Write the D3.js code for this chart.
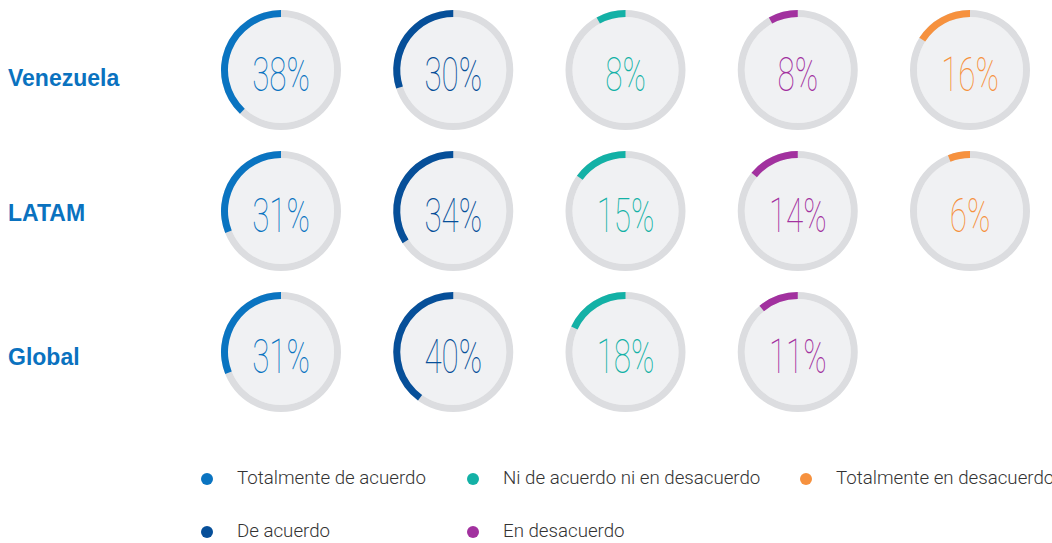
<!DOCTYPE html>
<html>
<head>
<meta charset="utf-8">
<script src="https://cdn.jsdelivr.net/npm/d3@7"></script>
<style>
  body { margin: 0; background: #fff; overflow: hidden; }
  svg { display: block; }
</style>
</head>
<body>
<div id="chart"></div>
<script>
const width = 1052;
const height = 543;

// regions (rows) and answer categories (columns)
const regions = ['Venezuela', 'LATAM', 'Global'];
const categories = ['Totalmente de acuerdo', 'De acuerdo', 'Ni de acuerdo ni en desacuerdo', 'En desacuerdo', 'Totalmente en desacuerdo'];
const colors = ['#0a74c1', '#064f99', '#13b1a6', '#a2319f', '#f6913e'];

// percentages, one array per region (Global has no last value)
const venezuela = [38, 30, 8, 8, 16];
const latam = [31, 34, 15, 14, 6];
const global = [31, 40, 18, 11, null];
const values = [venezuela, latam, global];

const svg = d3.select('#chart').append('svg')
  .attr('width', width)
  .attr('height', height);

const x = d3.scalePoint().domain(d3.range(categories.length)).range([281, 970]);
const y = d3.scalePoint().domain(regions).range([70, 352]);

const outer = 60;
const ringW = 7;

const arc = d3.arc()
  .innerRadius(outer - ringW)
  .outerRadius(outer);

// row labels, baseline a bit under the ring centre
const labelShift = { 'Venezuela': 16, 'LATAM': 10, 'Global': 13 };
svg.selectAll('.region').data(regions)
  .enter().append('text')
  .attr('x', 8)
  .attr('y', d => y(d) + labelShift[d])
  .attr('font-family', '"Liberation Sans", Arial, sans-serif')
  .attr('font-weight', 700)
  .attr('font-size', 23)
  .attr('fill', '#0a72bf')
  .text(d => d);

regions.forEach((r, ri) => {
  values[ri].forEach((v, ci) => {
    if (v == null) return;
    const g = svg.append('g')
      .attr('transform', `translate(${x(ci)},${y(r)})`);

    g.append('circle')
      .attr('r', outer - ringW)
      .attr('fill', '#f0f1f3');

    g.append('path')
      .attr('d', arc({ startAngle: 0, endAngle: 2 * Math.PI }))
      .attr('fill', '#dcdde0');

    // arc runs counter-clockwise from 12 o'clock
    g.append('path')
      .attr('d', arc({ startAngle: -2 * Math.PI * v / 100, endAngle: 0 }))
      .attr('fill', colors[ci]);

    g.append('text')
      .attr('text-anchor', 'middle')
      .attr('transform', 'translate(0,21) scale(0.64,1)')
      .attr('font-family', 'Roboto, sans-serif')
      .attr('font-weight', 100)
      .attr('font-size', 49)
      .attr('fill', colors[ci])
      .text(v + '%');
  });
});

// legend
const legendPos = [
  { x: 207, y: 479 }, { x: 207, y: 532 },
  { x: 473, y: 479 }, { x: 473, y: 532 },
  { x: 806, y: 479 }
];

const legend = svg.selectAll('.legend').data(categories)
  .enter().append('g')
  .attr('transform', (d, i) => `translate(${legendPos[i].x},${legendPos[i].y})`);

legend.append('circle')
  .attr('r', 6)
  .attr('fill', (d, i) => colors[i]);

legend.append('text')
  .attr('x', 30)
  .attr('y', 5)
  .attr('font-family', 'Roboto, Arial, sans-serif')
  .attr('font-weight', 300)
  .attr('font-size', 18.7)
  .attr('fill', '#333')
  .text(d => d);
</script>
</body>
</html>
